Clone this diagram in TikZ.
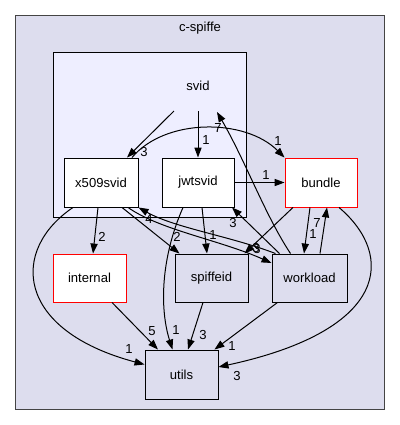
\documentclass[tikz,border=0pt]{standalone}
\usepackage{fontspec}
\setmainfont{Liberation Sans}
\usetikzlibrary{arrows.meta,calc}
\definecolor{outerfill}{HTML}{DDDDEE}
\definecolor{innerfill}{HTML}{EEEEFF}
\definecolor{outerline}{HTML}{444444}
\newcommand\pxu{0.75pt}
\tikzset{
  box/.style={draw=black, line width=0.7pt, inner sep=0pt, font=\fontsize{9.8}{12}\selectfont},
  whitebox/.style={box, fill=white},
  redbox/.style={box, fill=white, draw=red},
  greybox/.style={box, fill=outerfill},
  dep/.style={draw=black, line width=0.75pt, -{Triangle[length=7.5pt,width=5.4pt]}},
  lab/.style={font=\fontsize{9.8}{12}\selectfont, inner sep=0pt},
}
\begin{document}
\begin{tikzpicture}[x=0.75pt, y=-0.75pt]
\useasboundingbox (0,0) rectangle (400,425);
% clusters
\draw[fill=outerfill, draw=outerline, line width=0.75pt] (15,15) rectangle (384,409);
\node[lab] (title) at (200,28) {c-spiffe};
\draw[fill=innerfill, draw=black, line width=0.7pt] (53,52) rectangle (246,217);
\node[lab] (svid) at (198,86) {svid};
\coordinate (svidA) at (174,111);
\coordinate (svidB) at (198,111);
\coordinate (svidC) at (217,112);
% nodes
\node[whitebox, minimum width=74*\pxu, minimum height=49*\pxu] (x509svid) at (101,182.5) {x509svid};
\node[whitebox, minimum width=72*\pxu, minimum height=49*\pxu] (jwtsvid) at (198,182.5) {jwtsvid};
\node[redbox, minimum width=72*\pxu, minimum height=49*\pxu] (bundle) at (321,182.5) {bundle};
\node[redbox, minimum width=73*\pxu, minimum height=48*\pxu] (internal) at (89.5,278) {internal};
\node[greybox, minimum width=73*\pxu, minimum height=48*\pxu] (spiffeid) at (211.5,278) {spiffeid};
\node[greybox, minimum width=75*\pxu, minimum height=48*\pxu] (workload) at (309.5,278) {workload};
\node[greybox, minimum width=73*\pxu, minimum height=49*\pxu] (utils) at (181.5,374.5) {utils};
% edges
\draw[dep] (svidA) -- ($(x509svid.north)+(26,0)$);
\node[lab] at (144,152) {3};
\draw[dep] (svidB) -- (jwtsvid.north);
\node[lab] at (206,140) {1};
\draw[dep] ($(workload.north)+(-19,0)$) .. controls (265,215) and (245,160) .. (svidC);
\node[lab] at (218,128) {7};
\draw[dep] ($(x509svid.north)+(31,0)$) .. controls (165,118) and (245,118) .. (bundle.north west);
\node[lab] at (278,141) {1};
\draw[dep] (jwtsvid.east) -- (bundle.west);
\node[lab] at (266,175) {1};
\draw[dep] ($(workload.north)+(-30,0)$) -- ($(jwtsvid.south)+(34,0)$);
\node[lab] at (233,223) {3};
\draw[dep] ($(bundle.south)+(-28,0)$) -- ($(spiffeid.north)+(33,0)$);
\node[lab] at (256,248) {3};
\draw[dep] ($(x509svid.south)+(27,0)$) .. controls (160,230) and (220,240) .. ($(workload.west)+(0,-15)$);
\node[lab] at (257,248.5) {3};
\draw[dep] ($(workload.north west)+(4,0)$) .. controls (230,236) and (175,228) .. (x509svid.south east);
\node[lab] at (149,219) {4};
\draw[dep] ($(x509svid.south)+(21,0)$) -- ($(spiffeid.north west)+(5,0)$);
\node[lab] at (177,237) {2};
\draw[dep] ($(jwtsvid.south)+(4,0)$) -- ($(spiffeid.north)+(-4.5,0)$);
\node[lab] at (213,235) {1};
\draw[dep] ($(x509svid.south)+(-3,0)$) -- ($(internal.north)+(3.5,0)$);
\node[lab] at (102,237) {2};
\draw[dep] ($(x509svid.south)+(-28,0)$) .. controls (10,250) and (15,330) .. ($(utils.west)+(0,-10)$);
\node[lab] at (129,349) {1};
\draw[dep] ($(jwtsvid.south)+(-15,0)$) .. controls (160,260) and (160,310) .. ($(utils.north)+(-9,0)$);
\node[lab] at (176,330) {1};
\draw[dep] ($(internal.south)+(22.5,0)$) -- ($(utils.north)+(-23.5,0)$);
\node[lab] at (152,331) {5};
\draw[dep] ($(spiffeid.south)+(-8.5,0)$) -- ($(utils.north)+(6.5,0)$);
\node[lab] at (203,335) {3};
\draw[dep] ($(workload.south west)+(6,0)$) -- ($(utils.north east)+(-4,0)$);
\node[lab] at (232,346) {1};
\draw[dep] ($(bundle.south)+(18,0)$) .. controls (395,255) and (390,330) .. ($(utils.east)+(0,-7.5)$);
\node[lab] at (237,376) {3};
\draw[dep] ($(bundle.south)+(-11,0)$) -- ($(workload.north)+(-5.5,0)$);
\node[lab] at (313,234) {1};
\draw[dep] ($(workload.north)+(10.5,0)$) -- ($(bundle.south)+(6,0)$);
\node[lab] at (317,223) {7};
\end{tikzpicture}
\end{document}
